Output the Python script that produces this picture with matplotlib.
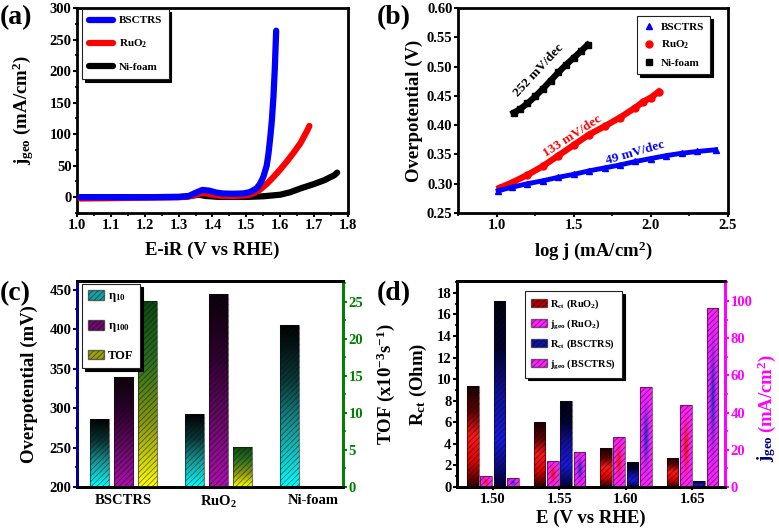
import numpy as np
import matplotlib
matplotlib.use("Agg")
import matplotlib.pyplot as plt
from matplotlib.colors import LinearSegmentedColormap, to_rgb
from matplotlib.patches import Patch
from matplotlib.lines import Line2D
from matplotlib.ticker import MultipleLocator, FormatStrFormatter

plt.rcParams.update({
    "font.family": "Liberation Serif",
    "font.weight": "bold",
    "axes.labelweight": "bold",
    "mathtext.fontset": "custom",
    "mathtext.rm": "Liberation Serif:bold",
    "mathtext.it": "Liberation Serif:bold",
    "mathtext.bf": "Liberation Serif:bold",
    "hatch.linewidth": 0.6,
    "axes.linewidth": 2.0,
})

# ---------------- data ----------------
# (a) LSV curves
bsctrs_e = [1.01, 1.10, 1.20, 1.30, 1.33, 1.35, 1.37, 1.39, 1.41, 1.43, 1.46, 1.49,
            1.51, 1.53, 1.54, 1.55, 1.56, 1.565, 1.57, 1.575, 1.58, 1.584, 1.586, 1.588]
bsctrs_j = [0, 0, 0, 0.5, 2, 7, 11.5, 10.5, 7.5, 6, 5.5, 6,
            8, 14, 21, 32, 50, 68, 92, 120, 160, 205, 235, 264]
ruo2_e = [1.01, 1.10, 1.20, 1.30, 1.34, 1.36, 1.375, 1.39, 1.42, 1.46, 1.50, 1.52,
          1.54, 1.56, 1.58, 1.60, 1.62, 1.64, 1.66, 1.67, 1.68, 1.686]
ruo2_j = [-2, -1.5, -0.5, 0, 2, 5.5, 7, 5, 2.5, 2, 3, 6,
          12, 21, 32, 44, 57, 71, 86, 96, 106, 113]
nif_e = [1.01, 1.20, 1.32, 1.345, 1.36, 1.38, 1.42, 1.50, 1.55, 1.60, 1.63, 1.66,
         1.70, 1.73, 1.76, 1.768]
nif_j = [0, 0, 0.5, 3, 4, 2, 0.5, 0.5, 1.5, 4, 8, 14, 21, 27, 35, 39]

# (b) Tafel plots
taf_bsctrs_x = [1.01, 1.1, 1.2, 1.3, 1.4, 1.5, 1.6, 1.7, 1.8, 1.9, 2.0, 2.1, 2.2, 2.3, 2.42]
taf_bsctrs_y = [0.288, 0.294, 0.300, 0.305, 0.311, 0.316, 0.322, 0.327, 0.332, 0.338,
                0.343, 0.348, 0.352, 0.355, 0.358]
taf_ruo2_x = [1.02, 1.1, 1.2, 1.3, 1.4, 1.5, 1.6, 1.7, 1.8, 1.9, 1.95, 2.0, 2.05]
taf_ruo2_y = [0.293, 0.302, 0.315, 0.330, 0.348, 0.366, 0.384, 0.398, 0.413, 0.430,
              0.440, 0.447, 0.457]
taf_nif_x = [1.11, 1.15, 1.2, 1.25, 1.3, 1.35, 1.4, 1.45, 1.5, 1.55, 1.59]
taf_nif_y = [0.421, 0.427, 0.437, 0.449, 0.462, 0.476, 0.490, 0.503, 0.515, 0.527, 0.537]

# (c) overpotentials and TOF
catalysts = ["BSCTRS", "RuO$_2$", "Ni-foam"]
eta10 = [286, 292, 405]
eta100 = [340, 444, np.nan]
tof = [25.1, 5.4, np.nan]

# (d) Rct and jgeo vs potential
potentials = ["1.50", "1.55", "1.60", "1.65"]
rct_ruo2 = [9.35, 6.0, 3.6, 2.7]
jgeo_ruo2 = [5.9, 13.9, 27.0, 44.0]
rct_bsctrs = [17.2, 8.0, 2.3, 0.6]
jgeo_bsctrs = [4.8, 19.0, 54.0, 96.0]

W, H = 779, 528
fig = plt.figure(figsize=(W / 100, H / 100), dpi=100, facecolor="white")


def box(l, t, r, b):
    return [l / W, 1 - b / H, (r - l) / W, (b - t) / H]


def style_ticks(ax, size=10.5):
    ax.tick_params(which="major", direction="out", length=2.8, width=1.5, pad=1.2,
                   labelsize=size)
    ax.tick_params(which="minor", direction="out", length=1.8, width=1.2)


HATCH = "//////"
HCOL = (0.05, 0.05, 0.05, 0.55)


def vgrad(cmap):
    def fn():
        return cmap(np.linspace(0, 1, 128)[:, None] * np.ones((1, 2)))
    return fn


def blob(base, spot):
    def fn():
        yy, xx = np.mgrid[0:1:64j, 0:1:32j]
        w = np.exp(-((xx - 0.5) / 0.2) ** 2 - ((yy - 0.5) / 0.28) ** 2)[..., None]
        img = (1 - w) * np.array(to_rgb(base)) + w * np.array(to_rgb(spot))
        return np.dstack([img, np.ones(img.shape[:2])])
    return fn


def grad_bars(ax, x, h, width, fill_fn, bottom=0):
    bars = ax.bar(x, h, width, bottom=bottom, facecolor="none", edgecolor=HCOL,
                  hatch=HATCH, linewidth=0.8, zorder=3)
    for b in bars:
        if not np.isfinite(b.get_height()) or b.get_height() == 0:
            continue
        x0, y0, bw, bh = b.get_x(), b.get_y(), b.get_width(), b.get_height()
        im = ax.imshow(fill_fn(), extent=[x0, x0 + bw, y0, y0 + bh], origin="lower",
                       aspect="auto", interpolation="bilinear", zorder=2)
        im.set_clip_path(b)
    return bars


def shadow_legend(ax, handles, labels, size, **kw):
    leg = ax.legend(handles, labels, fancybox=False, framealpha=1, edgecolor="#222222",
                    shadow={"color": "black", "alpha": 1}, prop={"size": size, "weight": "bold"},
                    borderaxespad=0, **kw)
    leg.get_frame().set_linewidth(0.8)
    leg.set_zorder(10)
    return leg


# ---------------- (a) ----------------
ax_a = fig.add_axes(box(77, 8, 348, 213))
ax_a.plot(bsctrs_e, bsctrs_j, color="#0000ff", lw=4.5, solid_capstyle="round", zorder=4)
ax_a.plot(ruo2_e, ruo2_j, color="#ff0000", lw=4.5, solid_capstyle="round", zorder=3)
ax_a.plot(nif_e, nif_j, color="black", lw=4.5, solid_capstyle="round", zorder=2)
ax_a.set_xlim(1.0, 1.8)
ax_a.set_ylim(-25, 300)
ax_a.xaxis.set_major_locator(MultipleLocator(0.1))
ax_a.xaxis.set_minor_locator(MultipleLocator(0.05))
ax_a.yaxis.set_major_locator(MultipleLocator(50))
ax_a.yaxis.set_minor_locator(MultipleLocator(25))
style_ticks(ax_a)
ax_a.set_xlabel("E-iR (V vs RHE)", fontsize=13.5, labelpad=7)
ax_a.set_ylabel("j$_{geo}$ (mA/cm$^2$)", fontsize=13.5)
ax_a.yaxis.set_label_coords(-0.15, 0.5)
h_a = [Line2D([], [], color=c, lw=4.5, solid_capstyle="round") for c in ["#0000ff", "#ff0000", "black"]]
shadow_legend(ax_a, h_a, ["BSCTRS", "RuO$_2$", "Ni-foam"], 8, loc="upper left",
              bbox_to_anchor=(0.018, 0.995), handlelength=2.2, labelspacing=1.1,
              borderpad=0.6, handletextpad=0.5)

# ---------------- (b) ----------------
ax_b = fig.add_axes(box(458, 8, 728, 213))
ax_b.plot(taf_nif_x, taf_nif_y, color="black", lw=4.5, marker="s", ms=4.5)
ax_b.plot(taf_ruo2_x, taf_ruo2_y, color="#ff0000", lw=4.5, marker="o", ms=5)
ax_b.plot(taf_bsctrs_x, taf_bsctrs_y, color="#0000ff", lw=3.5, marker="^", ms=5)
ax_b.set_xlim(0.75, 2.5)
ax_b.set_ylim(0.25, 0.60)
ax_b.xaxis.set_major_locator(MultipleLocator(0.5))
ax_b.xaxis.set_minor_locator(MultipleLocator(0.25))
ax_b.yaxis.set_major_locator(MultipleLocator(0.05))
ax_b.yaxis.set_major_formatter(FormatStrFormatter("%.2f"))
style_ticks(ax_b)
ax_b.set_xlabel("log j (mA/cm$^2$)", fontsize=13.5, labelpad=6)
ax_b.set_ylabel("Overpotential (V)", fontsize=13.5)
ax_b.yaxis.set_label_coords(-0.13, 0.5)
ax_b.text(1.27, 0.493, "252 mV/dec", rotation=47, rotation_mode="anchor", ha="center",
          va="center", fontsize=9.5, color="black")
ax_b.text(1.49, 0.381, "133 mV/dec", rotation=33, rotation_mode="anchor", ha="center",
          va="center", fontsize=9.5, color="#ff0000")
ax_b.text(1.90, 0.353, "49 mV/dec", rotation=16, rotation_mode="anchor", ha="center",
          va="center", fontsize=9.5, color="#0000ff")
h_b = [Line2D([], [], color="#0000ff", marker="^", ls="none", ms=5),
       Line2D([], [], color="#ff0000", marker="o", ls="none", ms=5),
       Line2D([], [], color="black", marker="s", ls="none", ms=4.5)]
shadow_legend(ax_b, h_b, ["BSCTRS", "RuO$_2$", "Ni-foam"], 8, loc="upper right",
              bbox_to_anchor=(0.935, 0.96), handlelength=1.0, labelspacing=0.6,
              borderpad=0.55, handletextpad=0.6)

# ---------------- (c) ----------------
ax_c = fig.add_axes(box(77, 281, 343, 487))
ax_c2 = ax_c.twinx()
xc = np.arange(len(catalysts))
bw_c = 0.2
cm_e10 = LinearSegmentedColormap.from_list("e10", ["#00ffff", "#18a0a0", "#0a3838", "#000000"])
cm_e100 = LinearSegmentedColormap.from_list("e100", ["#b010b0", "#6a0a6a", "#300030", "#0a000a"])
cm_tof = LinearSegmentedColormap.from_list("tof", ["#ffff00", "#8a9a10", "#2e7020", "#0a4a10"])
grad_bars(ax_c, xc - 0.256, np.array(eta10) - 200, bw_c, vgrad(cm_e10), bottom=200)
grad_bars(ax_c, xc, np.array(eta100) - 200, bw_c, vgrad(cm_e100), bottom=200)
grad_bars(ax_c2, xc + 0.256, tof, bw_c, vgrad(cm_tof))
ax_c.set_xlim(-0.49, 2.31)
ax_c.set_ylim(200, 461)
ax_c2.set_ylim(0, 27.8)
ax_c.set_xticks(xc)
ax_c.set_xticklabels(catalysts, fontsize=13)
ax_c.yaxis.set_major_locator(MultipleLocator(50))
ax_c.yaxis.set_minor_locator(MultipleLocator(25))
ax_c2.yaxis.set_major_locator(MultipleLocator(5))
ax_c2.yaxis.set_minor_locator(MultipleLocator(2.5))
style_ticks(ax_c, 10.5)
style_ticks(ax_c2, 10.5)
ax_c.tick_params(axis="x", length=0, pad=5)
ax_c.tick_params(axis="y", which="both", color="#00008b")
ax_c2.tick_params(axis="y", which="both", color="#008000", labelcolor="#008000")
for a in (ax_c, ax_c2):
    a.spines["left"].set_color("#00008b")
    a.spines["right"].set_color("#008000")
ax_c.set_ylabel("Overpotential (mV)", fontsize=13.5)
ax_c.yaxis.set_label_coords(-0.147, 0.5)
ax_c2.set_ylabel("TOF (x10$^{-3}$s$^{-1}$)", fontsize=13.5)
ax_c2.yaxis.set_label_coords(1.12, 0.5)
h_c = [Patch(facecolor="#18a0a0", edgecolor=HCOL, hatch=HATCH),
       Patch(facecolor="#6a0a6a", edgecolor=HCOL, hatch=HATCH),
       Patch(facecolor="#9aa010", edgecolor=HCOL, hatch=HATCH)]
shadow_legend(ax_c2, h_c, ["$\\eta_{10}$", "$\\eta_{100}$", "TOF"], 9, loc="upper left",
              bbox_to_anchor=(0.018, 0.985), handlelength=1.3, handleheight=0.8,
              labelspacing=1.25, borderpad=0.5, handletextpad=0.3)

# ---------------- (d) ----------------
ax_d = fig.add_axes(box(457, 281, 725, 487))
ax_d2 = ax_d.twinx()
xd = np.arange(len(potentials))
bw_d = 0.175
cm_rr = LinearSegmentedColormap.from_list("rr", ["#300000", "#e00000", "#ff1a1a", "#600000", "#1a0000"])
cm_rb = LinearSegmentedColormap.from_list("rb", ["#00003a", "#1818e0", "#1010a0", "#000030", "#00000f"])
grad_bars(ax_d, xd - 0.3, rct_ruo2, bw_d, vgrad(cm_rr))
grad_bars(ax_d2, xd - 0.1, jgeo_ruo2, bw_d, blob("#ff22ff", "#ff1010"))
grad_bars(ax_d, xd + 0.1, rct_bsctrs, bw_d, vgrad(cm_rb))
grad_bars(ax_d2, xd + 0.3, jgeo_bsctrs, bw_d, blob("#ff22ff", "#3030e0"))
ax_d.set_xlim(-0.54, 3.49)
ax_d.set_ylim(0, 19.1)
ax_d2.set_ylim(0, 110.7)
ax_d.set_xticks(xd)
ax_d.set_xticklabels(potentials)
ax_d.yaxis.set_major_locator(MultipleLocator(2))
ax_d.yaxis.set_minor_locator(MultipleLocator(1))
ax_d2.yaxis.set_major_locator(MultipleLocator(20))
ax_d2.yaxis.set_minor_locator(MultipleLocator(10))
style_ticks(ax_d, 10.5)
style_ticks(ax_d2, 10.5)
ax_d.tick_params(axis="x", length=2, pad=2)
ax_d2.tick_params(axis="y", which="both", color="#ff00ff", labelcolor="#ff00ff")
for a in (ax_d, ax_d2):
    a.spines["right"].set_color("#ff00ff")
ax_d.set_xlabel("E (V vs RHE)", fontsize=13.5, labelpad=3)
ax_d.set_ylabel("R$_{ct}$ (Ohm)", fontsize=13.5)
ax_d.yaxis.set_label_coords(-0.105, 0.5)
ax_d2.text(1.155, 0.25, "j$_{geo}$", transform=ax_d2.transAxes, rotation=90,
           ha="center", va="top", fontsize=13.5, color="#000080")
ax_d2.text(1.155, 0.26, "(mA/cm$^2$)", transform=ax_d2.transAxes, rotation=90,
           ha="center", va="bottom", fontsize=13.5, color="#ff00ff")
h_d = [Patch(facecolor="#b00000", edgecolor=HCOL, hatch=HATCH),
       Patch(facecolor="#ff22ff", edgecolor=HCOL, hatch=HATCH),
       Patch(facecolor="#1010a0", edgecolor=HCOL, hatch=HATCH),
       Patch(facecolor="#ff22ff", edgecolor=HCOL, hatch=HATCH)]
shadow_legend(ax_d2, h_d, ["R$_{ct}$ (RuO$_2$)", "j$_{geo}$ (RuO$_2$)",
                           "R$_{ct}$ (BSCTRS)", "j$_{geo}$ (BSCTRS)"], 7.5,
              loc="upper left", bbox_to_anchor=(0.254, 0.95), handlelength=1.5,
              handleheight=0.8, labelspacing=0.6, borderpad=0.6, handletextpad=0.3)

# panel letters
fig.text(0.0, 1 - 18 / H, "(a)", fontsize=20, va="center", ha="left")
fig.text(377 / W, 1 - 18 / H, "(b)", fontsize=20, va="center", ha="left")
fig.text(0.0, 1 - 294 / H, "(c)", fontsize=20, va="center", ha="left")
fig.text(377 / W, 1 - 294 / H, "(d)", fontsize=20, va="center", ha="left")

fig.savefig("out.png", dpi=100, facecolor="white")
